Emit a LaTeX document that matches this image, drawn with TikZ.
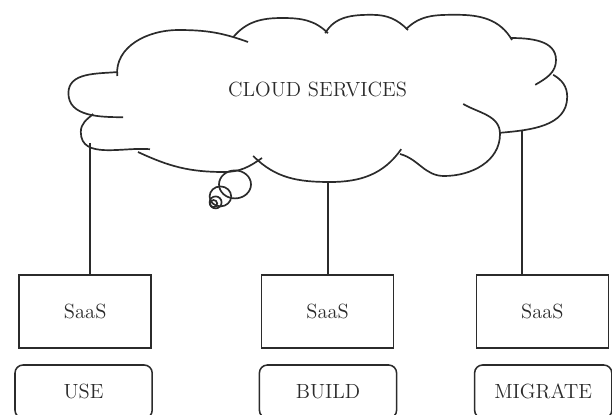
\documentclass[tikz,border=0pt]{standalone}
\usetikzlibrary{positioning, calc}
\definecolor{inkgray}{HTML}{2B2B2B}

\begin{document}
\begin{tikzpicture}[
    every node/.style={font=\fontsize{14.6pt}{17pt}\selectfont, text=inkgray},
    saasbox/.style={draw=inkgray, line width=1.1pt,
                    minimum width=3.3cm, minimum height=1.82cm},
    modebox/.style={draw=inkgray, line width=1.1pt, rounded corners=0.2cm,
                    minimum width=3.43cm, minimum height=1.33cm},
    lobe/.style={draw=inkgray, line width=1.2pt},
    link/.style={draw=inkgray, line width=1.1pt},
  ]
  \useasboundingbox (0,0) rectangle (15.3,10.35);
  \clip (0,0) rectangle (15.3,10.35);

  % cloud outline, one lobe at a time
  \draw[lobe] (2.95,8.55) to[out=185,in=90] (1.71,8.02) to[out=-90,in=180] (3.08,7.42);
  \draw[lobe] (2.33,7.5) to[out=220,in=90] (2.02,7.05) to[out=-90,in=175] (3.75,6.62);
  \draw[lobe] (3.45,6.55) to[out=-25,in=180] (5.6,6.05) to[out=0,in=215] (6.55,6.4);
  \draw[lobe] (6.33,6.45) to[out=-45,in=180] (8.25,5.8) to[out=0,in=235] (10.03,6.62);
  \draw[lobe] (10.0,6.5) to[out=-15,in=180] (11.1,5.95) to[out=0,in=-90] (12.5,7.0)
              to[out=90,in=-30] (11.58,7.75);
  \draw[lobe] (13.83,8.48) to[out=-30,in=90] (14.18,7.93) to[out=-90,in=5] (12.5,7.03);
  \draw[lobe] (12.75,9.4) to[out=0,in=90] (13.9,8.85) to[out=-90,in=30] (13.38,8.23);
  \draw[lobe] (10.15,9.62) to[out=45,in=180] (11.43,9.98) to[out=0,in=120] (12.8,9.35);
  \draw[lobe] (8.13,9.52) to[out=60,in=180] (9.3,9.98) to[out=0,in=135] (10.2,9.6);
  \draw[lobe] (5.83,9.42) to[out=50,in=180] (7.05,9.9) to[out=0,in=135] (8.2,9.52);
  \draw[lobe] (2.93,8.45) to[out=95,in=180] (4.45,9.6) to[out=0,in=160] (6.2,9.3);

  % thought bubbles
  \draw[lobe] (5.875,5.74) ellipse [x radius=0.4, y radius=0.35];
  \draw[lobe] (5.51,5.44) ellipse [x radius=0.27, y radius=0.25];
  \draw[lobe] (5.39,5.29) circle [radius=0.15];
  \draw[lobe] (5.34,5.26) circle [radius=0.09];

  \node (cloud) at (7.94,8.11) {CLOUD SERVICES};

  \coordinate (cl1) at (2.25,6.78);
  \coordinate (cl2) at (8.2,5.8);
  \coordinate (cl3) at (13.05,7.07);

  \node[saasbox] (saas1) at (2.13,2.56)  {SaaS};
  \node[saasbox] (saas2) at (8.19,2.56)  {SaaS};
  \node[saasbox] (saas3) at (13.56,2.56) {SaaS};

  \node[modebox] (use)     at (2.09,0.56)  {USE};
  \node[modebox] (build)   at (8.2,0.56)   {BUILD};
  \node[modebox] (migrate) at (13.58,0.56) {MIGRATE};

  \draw[link] (cl1) -- (cl1 |- saas1.north);
  \draw[link] (cl2) -- (cl2 |- saas2.north);
  \draw[link] (cl3) -- (cl3 |- saas3.north);
\end{tikzpicture}
\end{document}
